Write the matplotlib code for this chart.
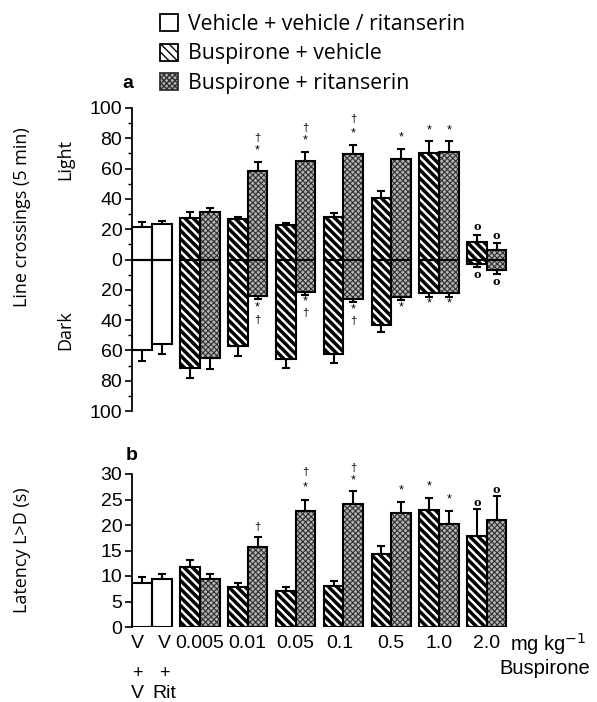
import matplotlib
matplotlib.use("Agg")
import matplotlib.pyplot as plt
from matplotlib.patches import Patch
from matplotlib.transforms import blended_transform_factory
import numpy as np

plt.rcParams['font.family'] = ['Liberation Sans', 'DejaVu Sans']

# groups: 0 = vehicle controls (V+V, V+Rit), 1..7 = buspirone doses
doses = ['0.005', '0.01', '0.05', '0.1', '0.5', '1.0', '2.0']

# panel a: line crossings, light / dark (means and SEM)
light_left = [21.6, 27.1, 26.5, 22.7, 28.2, 40.8, 70.4, 11.3]
light_left_err = [2.9, 4.4, 1.5, 1.5, 2.4, 4.4, 7.5, 5.2]
light_right = [23.2, 31.5, 58.5, 65.3, 69.5, 66.6, 70.9, 6.4]
light_right_err = [2.1, 2.5, 5.9, 5.7, 6.2, 6.4, 7.0, 4.2]
dark_left = [60.0, 71.5, 57.4, 65.6, 62.3, 43.5, 22.1, 3.1]
dark_left_err = [6.7, 6.9, 6.0, 5.9, 6.2, 4.4, 2.6, 1.8]
dark_right = [55.6, 64.9, 24.1, 21.7, 25.8, 24.5, 22.1, 7.1]
dark_right_err = [6.7, 7.7, 2.2, 1.5, 2.2, 2.4, 2.6, 2.6]

# panel b: latency light -> dark (s)
lat_left = [8.7, 11.8, 7.8, 7.1, 8.1, 14.4, 23.0, 17.9]
lat_left_err = [1.2, 1.3, 0.9, 0.8, 1.0, 1.5, 2.3, 5.3]
lat_right = [9.5, 9.5, 15.7, 22.8, 24.2, 22.4, 20.2, 20.9]
lat_right_err = [0.9, 0.9, 1.9, 2.2, 2.5, 2.1, 2.6, 4.7]

# significance marks: (group, side, y, text)
marks_a = [(2, 1, 71.9, '*'), (2, 1, 80.1, '†'), (3, 1, 78.3, '*'), (3, 1, 86.7, '†'),
           (4, 1, 83.4, '*'), (4, 1, 92.9, '†'), (5, 1, 80.5, '*'), (6, 0, 85, '*'),
           (6, 1, 85, '*'), (7, 0, 21.6, 'o'), (7, 1, 15.6, 'o'),
           (2, 1, -31.4, '*'), (2, 1, -40.2, '†'), (3, 1, -28.0, '*'), (3, 1, -35.0, '†'),
           (4, 1, -33.1, '*'), (4, 1, -40.9, '†'), (5, 1, -31.8, '*'), (6, 0, -29.1, '*'),
           (6, 1, -29.1, '*'), (7, 0, -9.7, 'o'), (7, 1, -14.8, 'o')]
marks_b = [(2, 1, 19.6, '†'), (3, 1, 27.3, '*'), (3, 1, 30.4, '†'), (4, 1, 28.8, '*'),
           (4, 1, 31.2, '†'), (5, 1, 26.7, '*'), (6, 0, 27.6, '*'), (6, 1, 25.0, '*'),
           (7, 0, 24.5, 'o'), (7, 1, 27.0, 'o')]

W = 0.41
x = np.arange(8)
xl = x - W / 2
xr = x + W / 2
HATCH = '\\\\\\\\'
STIP = 'xxxxxx'


def style(i, side):
    if i == 0:
        return 'white'
    return 'hatch' if side == 0 else 'stip'


def draw_bar(ax, xpos, bottom, height, kind):
    if kind == 'hatch':
        with plt.rc_context({'hatch.linewidth': 2.5}):
            ax.bar(xpos, height, W, bottom=bottom, color='white', edgecolor='black',
                   hatch=HATCH, linewidth=0, zorder=2)
    elif kind == 'stip':
        with plt.rc_context({'hatch.linewidth': 0.8}):
            ax.bar(xpos, height, W, bottom=bottom, color='#b4b4b4', edgecolor='#303030',
                   hatch=STIP, linewidth=0, zorder=2)
    else:
        ax.bar(xpos, height, W, bottom=bottom, color='white', linewidth=0, zorder=2)
    ax.bar(xpos, height, W, bottom=bottom, fill=False, edgecolor='black',
           linewidth=1.5, zorder=3)


def put_marks(ax, marks):
    for g, side, y, t in marks:
        xp = xl[g] if side == 0 else xr[g]
        if t == 'o':
            ax.text(xp, y, t, ha='center', va='center', fontsize=8, fontweight='bold',
                    family='DejaVu Serif')
        else:
            ax.text(xp, y, t, ha='center', va='center', fontsize=9 if t == '*' else 8)


fig = plt.figure(figsize=(5.97, 7.02), dpi=100)
ax1 = fig.add_axes([132 / 597, 1 - 411 / 702, (560 - 132) / 597, 303 / 702])
ax2 = fig.add_axes([132 / 597, 1 - 627 / 702, (560 - 132) / 597, 153 / 702])

ekw = dict(fmt='none', ecolor='black', elinewidth=1.5, capsize=3, capthick=1.5, zorder=1)

# panel a
for i in range(8):
    for side, xp, lv, le, dv, de in [(0, xl[i], light_left[i], light_left_err[i], dark_left[i], dark_left_err[i]),
                                     (1, xr[i], light_right[i], light_right_err[i], dark_right[i], dark_right_err[i])]:
        k = style(i, side)
        draw_bar(ax1, xp, 0, lv, k)
        draw_bar(ax1, xp, -dv, dv, k)
        ax1.errorbar(xp, lv, yerr=[[0], [le]], **ekw)
        ax1.errorbar(xp, -dv, yerr=[[de], [0]], **ekw)
put_marks(ax1, marks_a)

ax1.set_xlim(-0.42, 8.53)
ax1.set_ylim(-100, 100)
ax1.set_yticks(np.arange(-100, 101, 20))
ax1.set_yticklabels([str(abs(v)) for v in range(-100, 101, 20)])
ax1.set_yticks(np.arange(-90, 100, 20), minor=True)
ax1.set_xticks([])
for s in ['top', 'right', 'bottom']:
    ax1.spines[s].set_visible(False)
ax1.spines['left'].set_linewidth(1.3)
ax1.tick_params(axis='y', which='major', length=5, width=1.2, labelsize=14, pad=2)
ax1.tick_params(axis='y', which='minor', length=3, width=1.0)

# panel b
for i in range(8):
    for side, xp, v, e in [(0, xl[i], lat_left[i], lat_left_err[i]),
                           (1, xr[i], lat_right[i], lat_right_err[i])]:
        draw_bar(ax2, xp, 0, v, style(i, side))
        ax2.errorbar(xp, v, yerr=[[0], [e]], **ekw)
put_marks(ax2, marks_b)

tick_x = [xl[0] - 0.1, xr[0] + 0.05] + list(x[1:] - np.array([0, 0, 0, 0.08, 0, 0, 0]))
ax2.set_xlim(-0.42, 8.53)
ax2.set_ylim(0, 30)
ax2.set_yticks(np.arange(0, 31, 5))
ax2.set_xticks(tick_x)
ax2.set_xticklabels(['V', 'V'] + doses)
for s in ['top', 'right', 'bottom']:
    ax2.spines[s].set_visible(False)
ax2.spines['left'].set_linewidth(1.3)
ax2.tick_params(axis='y', length=5, width=1.2, labelsize=14, pad=2)
ax2.tick_params(axis='x', length=0, labelsize=14, pad=6)

tr = blended_transform_factory(ax2.transData, fig.transFigure)
for xp, t in [(tick_x[0], 'V'), (tick_x[1], 'Rit')]:
    fig.text(xp, 1 - 673 / 702, '+', transform=tr, ha='center', va='center', fontsize=13)
    fig.text(xp, 1 - 694 / 702, t, transform=tr, ha='center', va='center', fontsize=14)
fig.text(510 / 597, 1 - 644 / 702, 'mg kg$^{-1}$', ha='left', va='center', fontsize=14.5)
fig.text(499 / 597, 1 - 668 / 702, 'Buspirone', ha='left', va='center', fontsize=14.5)

# axis labels
lab = dict(rotation=90, ha='center', va='center', fontsize=13, family=['Open Sans', 'DejaVu Sans'])
fig.text(22 / 597, 1 - 217 / 702, 'Line crossings (5 min)', **lab)
fig.text(65 / 597, 1 - 160 / 702, 'Light', **lab)
fig.text(65 / 597, 1 - 330 / 702, 'Dark', **lab)
fig.text(22 / 597, 1 - 550 / 702, 'Latency L>D (s)', **lab)
fig.text(128 / 597, 1 - 84 / 702, 'a', ha='center', va='center', fontsize=14, fontweight='bold')
fig.text(132 / 597, 1 - 455 / 702, 'b', ha='center', va='center', fontsize=14, fontweight='bold')

# legend
with plt.rc_context({'hatch.linewidth': 2.0}):
    h_white = Patch(facecolor='white', edgecolor='black', linewidth=1.3)
    h_hatch = Patch(facecolor='white', edgecolor='black', hatch=HATCH, linewidth=1.3)
with plt.rc_context({'hatch.linewidth': 0.8}):
    h_stip = Patch(facecolor='#b4b4b4', edgecolor='#303030', hatch=STIP, linewidth=1.3)
fig.legend([h_white, h_hatch, h_stip],
           ['Vehicle + vehicle / ritanserin', 'Buspirone + vehicle', 'Buspirone + ritanserin'],
           loc='upper left', bbox_to_anchor=(160 / 597, 1 - 14 / 702), frameon=False,
           borderpad=0, borderaxespad=0, handlelength=0.85, handleheight=0.85,
           handletextpad=0.45, labelspacing=0.4,
           prop={'family': ['Open Sans', 'DejaVu Sans'], 'size': 15.3})

fig.savefig('out.png', dpi=100)
